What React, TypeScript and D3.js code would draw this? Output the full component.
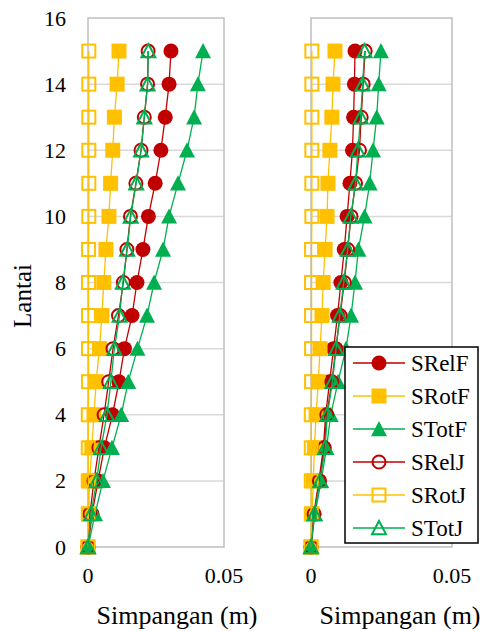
import React, { useEffect, useRef } from 'react'
import * as d3 from 'd3'

// floors 0..15
const floors = [0, 1, 2, 3, 4, 5, 6, 7, 8, 9, 10, 11, 12, 13, 14, 15]
const yTicks = [0, 2, 4, 6, 8, 10, 12, 14, 16]
const xTicks = [0, 0.05]
const seriesNames = ['SRelF', 'SRotF', 'STotF', 'SRelJ', 'SRotJ', 'STotJ']

// left panel
const leftSRelF = [0, 0.0015, 0.0037, 0.006, 0.009, 0.0114, 0.0134, 0.0162, 0.018, 0.0202, 0.0222, 0.0247, 0.0268, 0.0284, 0.0298, 0.0305]
const leftSRotF = [0, 0.0002, 0.0006, 0.0014, 0.0022, 0.003, 0.0042, 0.0051, 0.0058, 0.0066, 0.0077, 0.0083, 0.0091, 0.0097, 0.0107, 0.0114]
const leftSTotF = [0, 0.0026, 0.0055, 0.0088, 0.0122, 0.0148, 0.0182, 0.0217, 0.0243, 0.0276, 0.0298, 0.0331, 0.0364, 0.039, 0.0404, 0.0423]
const leftSRelJ = [0, 0.0007, 0.0022, 0.004, 0.0059, 0.0076, 0.0092, 0.0112, 0.013, 0.0143, 0.0156, 0.0176, 0.0195, 0.0207, 0.0219, 0.0221]
const leftSRotJ = [0, 0.0001, 0.0001, 0.0001, 0.0001, 0.0002, 0.0002, 0.0002, 0.0002, 0.0002, 0.0003, 0.0003, 0.0003, 0.0003, 0.0003, 0.0003]
const leftSTotJ = [0, 0.0011, 0.0032, 0.0048, 0.007, 0.0084, 0.0097, 0.0116, 0.0128, 0.0144, 0.0157, 0.0177, 0.0195, 0.0207, 0.0219, 0.0222]

// right panel
const rightSRelF = [0, 0.001, 0.0028, 0.0044, 0.0052, 0.0066, 0.008, 0.0094, 0.0106, 0.0118, 0.0128, 0.0138, 0.0147, 0.0151, 0.0154, 0.0156]
const rightSRotF = [0, 0.0004, 0.0008, 0.0012, 0.0018, 0.0026, 0.0032, 0.0039, 0.0043, 0.005, 0.0057, 0.006, 0.0067, 0.0074, 0.0078, 0.0085]
const rightSTotF = [0, 0.0014, 0.0036, 0.0055, 0.007, 0.0096, 0.0124, 0.0142, 0.0156, 0.0168, 0.019, 0.0208, 0.022, 0.0233, 0.024, 0.0248]
const rightSRelJ = [0, 0.0011, 0.003, 0.0047, 0.0056, 0.0074, 0.0088, 0.0103, 0.0118, 0.013, 0.0142, 0.0158, 0.0172, 0.0178, 0.0185, 0.0192]
const rightSRotJ = [0, 0.0001, 0.0001, 0.0001, 0.0001, 0.0002, 0.0002, 0.0002, 0.0002, 0.0002, 0.0003, 0.0003, 0.0003, 0.0003, 0.0003, 0.0003]
const rightSTotJ = [0, 0.0012, 0.0032, 0.005, 0.0058, 0.0076, 0.0089, 0.0102, 0.0116, 0.013, 0.0141, 0.0158, 0.0166, 0.0176, 0.0183, 0.019]

const RED = '#C00000'
const YEL = '#FFC000'
const GRN = '#00B050'
const FONT = 'Liberation Serif, Times New Roman, serif'

type Style = { color: string; shape: 'circle' | 'square' | 'triangle'; filled: boolean }
const styles: Style[] = [
  { color: RED, shape: 'circle', filled: true },
  { color: YEL, shape: 'square', filled: true },
  { color: GRN, shape: 'triangle', filled: true },
  { color: RED, shape: 'circle', filled: false },
  { color: YEL, shape: 'square', filled: false },
  { color: GRN, shape: 'triangle', filled: false },
]

function drawMarker(g: any, x: number, y: number, s: Style) {
  const fill = s.filled ? s.color : 'none'
  const sw = s.filled ? 0 : 2
  if (s.shape === 'circle') {
    g.append('circle').attr('cx', x).attr('cy', y).attr('r', s.filled ? 7.5 : 6.5)
      .attr('fill', fill).attr('stroke', s.color).attr('stroke-width', sw)
  } else if (s.shape === 'square') {
    const h = s.filled ? 7.5 : 6.5
    g.append('rect').attr('x', x - h).attr('y', y - h).attr('width', h * 2).attr('height', h * 2)
      .attr('fill', fill).attr('stroke', s.color).attr('stroke-width', sw)
  } else {
    const h = s.filled ? 8 : 7
    const p = d3.path()
    p.moveTo(x, y - h)
    p.lineTo(x + h, y + h * 0.9)
    p.lineTo(x - h, y + h * 0.9)
    p.closePath()
    g.append('path').attr('d', p.toString())
      .attr('fill', fill).attr('stroke', s.color).attr('stroke-width', sw).attr('stroke-linejoin', 'miter')
  }
}

function App() {
  const ref = useRef<SVGSVGElement>(null)

  useEffect(() => {
    const svg = d3.select(ref.current)
    svg.selectAll('*').remove()

    const y = d3.scaleLinear().domain([0, 16]).range([547, 18])

    const panels = [
      { x0: 88, x1: 224, data: [leftSRelF, leftSRotF, leftSTotF, leftSRelJ, leftSRotJ, leftSTotJ], yLabels: true, titleX: 177 },
      { x0: 311, x1: 452, data: [rightSRelF, rightSRotF, rightSTotF, rightSRelJ, rightSRotJ, rightSTotJ], yLabels: false, titleX: 400 },
    ]

    panels.forEach(panel => {
      const x = d3.scaleLinear().domain([0, 0.05]).range([panel.x0, panel.x1])
      const g = svg.append('g')

      // gridlines
      g.selectAll('line.grid')
        .data(yTicks.filter(t => t > 0 && t < 16))
        .enter()
        .append('line')
        .attr('x1', panel.x0).attr('x2', panel.x1)
        .attr('y1', d => y(d)).attr('y2', d => y(d))
        .attr('stroke', '#D9D9D9').attr('stroke-width', 1.5)

      // plot border
      g.append('rect')
        .attr('x', panel.x0).attr('y', y(16))
        .attr('width', panel.x1 - panel.x0).attr('height', y(0) - y(16))
        .attr('fill', 'none').attr('stroke', '#BFBFBF').attr('stroke-width', 1.5)

      // x tick labels
      xTicks.forEach(t => {
        g.append('text')
          .attr('x', x(t)).attr('y', 583)
          .attr('text-anchor', 'middle')
          .attr('font-size', 22)
          .text(t === 0 ? '0' : String(t))
      })

      if (panel.yLabels) {
        yTicks.forEach(t => {
          g.append('text')
            .attr('x', 66).attr('y', y(t) + 7.5)
            .attr('text-anchor', 'end')
            .attr('font-size', 22)
            .text(t)
        })
      }

      g.append('text')
        .attr('x', panel.titleX).attr('y', 624)
        .attr('text-anchor', 'middle')
        .attr('font-size', 26)
        .text('Simpangan (m)')

      const line = d3.line<number>()
        .x(d => x(d))
        .y((d, i) => y(floors[i]))

      panel.data.forEach((vals, si) => {
        const s = styles[si]
        g.append('path')
          .attr('d', line(vals) as string)
          .attr('fill', 'none')
          .attr('stroke', s.color)
          .attr('stroke-width', 1.3)
        vals.forEach((v, i) => drawMarker(g, x(v), y(floors[i]), s))
      })
    })

    // y axis title
    svg.append('text')
      .attr('transform', 'translate(31,296) rotate(-90)')
      .attr('text-anchor', 'middle')
      .attr('font-size', 25)
      .text('Lantai')

    // legend
    const lg = svg.append('g')
    lg.append('rect')
      .attr('x', 345).attr('y', 347).attr('width', 133).attr('height', 196)
      .attr('fill', 'white').attr('stroke', 'black').attr('stroke-width', 1.5)
    seriesNames.forEach((name, i) => {
      const cy = 363 + i * 33
      const s = styles[i]
      lg.append('line')
        .attr('x1', 353).attr('x2', 405).attr('y1', cy).attr('y2', cy)
        .attr('stroke', s.color).attr('stroke-width', 1.3)
      drawMarker(lg, 379, cy, s)
      lg.append('text')
        .attr('x', 411).attr('y', cy + 8)
        .attr('font-size', 23)
        .text(name)
    })
  }, [])

  return (
    <svg ref={ref} width={484} height={631} fontFamily={FONT}
      style={{ position: 'absolute', left: 0, top: 0, background: 'white', fontFamily: FONT }} />
  )
}

export default App
